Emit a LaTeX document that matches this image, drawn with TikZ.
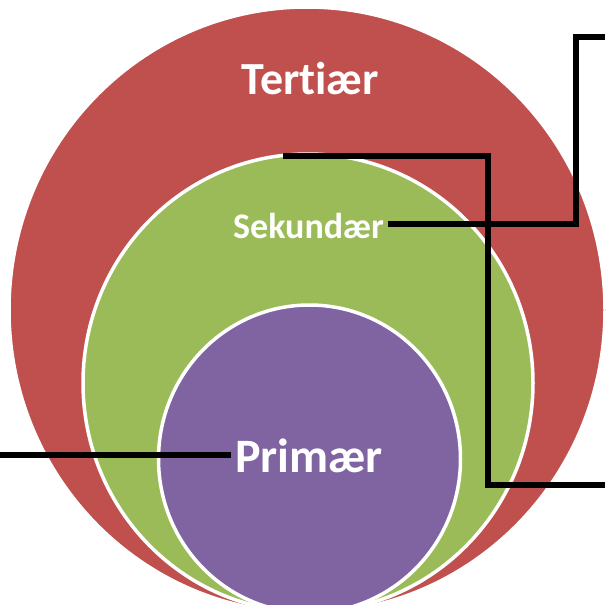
\documentclass[tikz,border=0pt]{standalone}
\usepackage{fontspec}
\setmainfont{Carlito}[Ligatures=NoCommon]
\definecolor{tred}{HTML}{C0504D}
\definecolor{tgreen}{HTML}{9BBB59}
\definecolor{tpurple}{HTML}{8064A2}
\begin{document}
\begin{tikzpicture}[x=1pt,y=-1pt,
  ring/.style={draw=white, line width=3.5pt},
  lead/.style={draw=black, line width=5.5pt},
  lbl/.style={text=white, font=\bfseries, anchor=base, inner xsep=4pt, inner ysep=0pt}]
\clip (0,0) rectangle (605,605);
\fill[white] (0,0) rectangle (605,605);
\draw[ring, fill=tred] (307,310) ellipse [x radius=298pt, y radius=303pt];
\draw[ring, fill=tgreen] (308,383) ellipse [x radius=225pt, y radius=229pt];
\draw[ring, fill=tpurple] (309.5,459) ellipse [x radius=151pt, y radius=154pt];
\node[lbl, font=\fontsize{46}{55}\selectfont\bfseries] (ter) at (310,94) {Tertiær};
\node[lbl, font=\fontsize{36}{43}\selectfont\bfseries] (sek) at (308.5,238) {Sekundær};
\node[lbl, font=\fontsize{48}{58}\selectfont\bfseries] (pri) at (309,472) {Primær};
\coordinate (pl) at (0,455);
\coordinate (sa) at (576,224);
\coordinate (sb) at (576,37);
\coordinate (se) at (605,37);
\coordinate (ta) at (283,156);
\coordinate (tb) at (488,156);
\coordinate (tc) at (488,485);
\coordinate (te) at (605,485);
\draw[lead] (pl) -- (pl -| pri.west);
\draw[lead] (sek.east |- sa) -- (sa) -- (sb) -- (se);
\draw[lead] (ta) -- (tb) -- (tc) -- (te);
\end{tikzpicture}
\end{document}
